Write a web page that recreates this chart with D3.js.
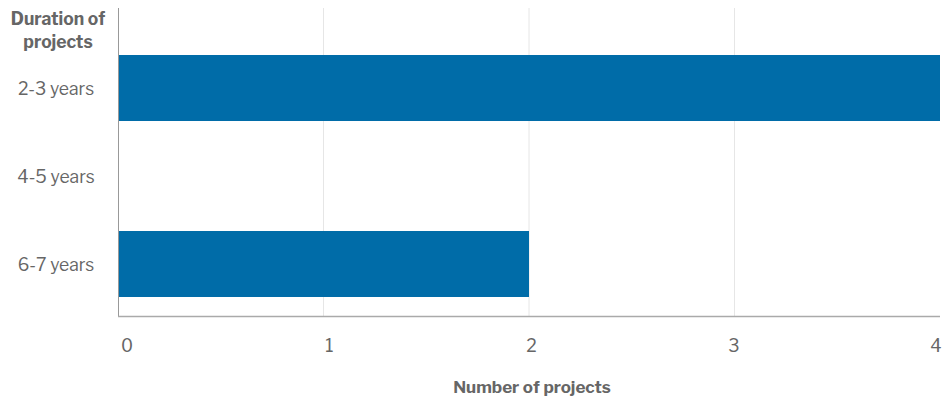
<!DOCTYPE html>
<html>
<head>
<meta charset="utf-8">
<script src="https://cdn.jsdelivr.net/npm/d3@7"></script>
<style>
  body { margin: 0; background: #fff; }
  text { font-family: "Libre Franklin", "Open Sans", "Liberation Sans", sans-serif; }
</style>
</head>
<body>
<div id="chart"></div>
<script>
const categories = ['2-3 years', '4-5 years', '6-7 years']
const counts = [4, 0, 2]
const xTicks = [0, 1, 2, 3, 4]

const width = 942, height = 400
const plotLeft = 118, plotRight = 940, plotTop = 8, plotBottom = 316

const svg = d3.select('#chart').append('svg')
  .attr('width', width)
  .attr('height', height)

const x = d3.scaleLinear()
  .domain([0, 4])
  .range([plotLeft, plotRight])

// tick labels in the original drift a little inward
const xLabel = d3.scaleLinear()
  .domain([0, 4])
  .range([plotLeft + 9, plotRight - 4])

const y = d3.scaleBand()
  .domain(categories)
  .range([36, plotBottom])
  .paddingInner(0.25)
  .paddingOuter(0.216)

// gridlines
svg.selectAll('.grid')
  .data(xTicks.slice(1, -1))
  .join('line')
  .attr('class', 'grid')
  .attr('x1', d => x(d)).attr('x2', d => x(d))
  .attr('y1', plotTop).attr('y2', plotBottom)
  .attr('stroke', '#e6e6e6')
  .attr('stroke-width', 1)

svg.selectAll('.bar')
  .data(categories.map((c, i) => ({ c, v: counts[i] })))
  .join('rect')
  .attr('class', 'bar')
  .attr('x', x(0))
  .attr('y', d => y(d.c))
  .attr('width', d => x(d.v) - x(0))
  .attr('height', y.bandwidth())
  .attr('fill', '#006ca8')

// axis lines
svg.append('line')
  .attr('x1', plotLeft + 0.5).attr('x2', plotLeft + 0.5)
  .attr('y1', plotTop).attr('y2', plotBottom)
  .attr('stroke', '#999')
svg.append('line')
  .attr('x1', plotLeft).attr('x2', plotRight)
  .attr('y1', plotBottom + 0.5).attr('y2', plotBottom + 0.5)
  .attr('stroke', '#aaa')
  .attr('stroke-width', 1.5)

svg.selectAll('.ylab')
  .data(categories)
  .join('text')
  .attr('class', 'ylab')
  .attr('x', 56)
  .attr('y', d => y(d) + y.bandwidth() / 2 + 1)
  .attr('dy', '0.35em')
  .attr('text-anchor', 'middle')
  .attr('fill', '#666')
  .style('font-size', '17.5px')
  .text(d => d)

svg.selectAll('.xlab')
  .data(xTicks)
  .join('text')
  .attr('class', 'xlab')
  .attr('x', d => xLabel(d))
  .attr('y', 352)
  .attr('text-anchor', 'middle')
  .attr('fill', '#666')
  .style('font-size', '17.5px')
  .text(d => d)

const title = svg.append('text')
  .attr('text-anchor', 'middle')
  .attr('fill', '#666')
  .style('font-size', '17.5px')
  .style('font-weight', 'bold')
title.append('tspan').attr('x', 58).attr('y', 25).text('Duration of')
title.append('tspan').attr('x', 58).attr('y', 48).text('projects')

svg.append('text')
  .attr('x', 532)
  .attr('y', 393)
  .attr('text-anchor', 'middle')
  .attr('fill', '#666')
  .style('font-size', '17px')
  .style('font-weight', 'bold')
  .text('Number of projects')
</script>
</body>
</html>
